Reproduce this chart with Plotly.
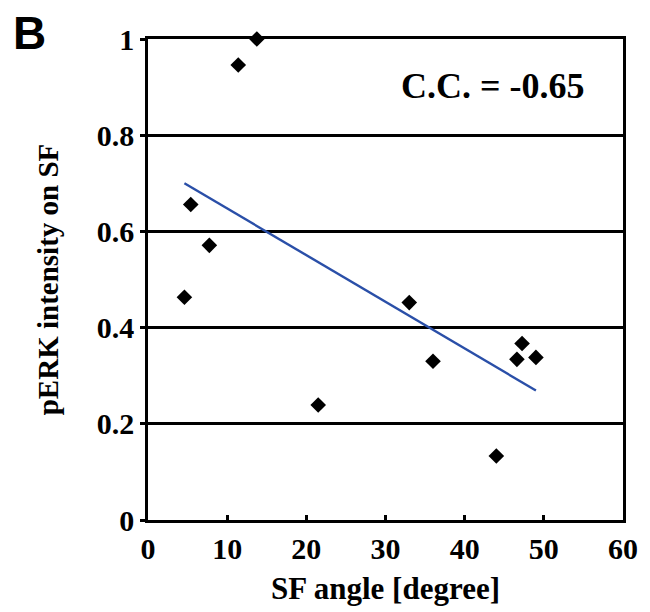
import numpy as np
import plotly.graph_objects as go

sf_angle = [4.6, 5.4, 7.75, 11.4, 13.75, 21.5, 33.0, 36.0, 44.0, 46.6, 47.25, 49.0]
perk_intensity = [0.463, 0.656, 0.571, 0.946, 1.0, 0.239, 0.452, 0.330, 0.133, 0.334, 0.367, 0.338]
x_ticks = [0, 10, 20, 30, 40, 50, 60]
y_ticks = [0, 0.2, 0.4, 0.6, 0.8, 1]
y_tick_labels = ["0", "0.2", "0.4", "0.6", "0.8", "1"]
cc_label = "C.C. = -0.65"

slope, intercept = np.polyfit(sf_angle, perk_intensity, 1)
fit_x = [min(sf_angle), max(sf_angle)]
fit_y = [slope * v + intercept for v in fit_x]

serif = "Liberation Serif, Times New Roman, serif"

fig = go.Figure()
fig.add_trace(go.Scatter(x=fit_x, y=fit_y, mode="lines",
                         line=dict(color="#2a4fa8", width=2.4), hoverinfo="skip"))
fig.add_trace(go.Scatter(x=sf_angle, y=perk_intensity, mode="markers",
                         marker=dict(symbol="diamond", size=12, color="black",
                                     line=dict(width=0)), cliponaxis=False))

fig.update_layout(
    width=642, height=604,
    margin=dict(l=140, r=21, t=31, b=91),
    plot_bgcolor="white", paper_bgcolor="white",
    showlegend=False,
    font=dict(family=serif, color="black"),
    xaxis=dict(range=[0, 60], tickvals=x_ticks, ticks="inside", ticklen=5,
               tickwidth=2.5, tickcolor="black",
               showline=True, linecolor="black", linewidth=2.5, mirror=True,
               showgrid=False, zeroline=False,
               tickfont=dict(family=serif, size=30, color="black", weight="bold"),
               title=dict(text="<b>SF angle [degree]</b>", standoff=14,
                          font=dict(family=serif, size=31, color="black"))),
    yaxis=dict(range=[0, 1], tickvals=y_ticks, ticktext=y_tick_labels,
               ticks="outside", ticklen=5, tickwidth=2.5, tickcolor="black",
               showline=True, linecolor="black", linewidth=2.5, mirror=True,
               showgrid=True, gridcolor="black", gridwidth=2.5, zeroline=False,
               tickfont=dict(family=serif, size=30, color="black", weight="bold"),
               title=dict(text="<b>pERK intensity on SF</b>", standoff=30,
                          font=dict(family=serif, size=29, color="black"))),
    annotations=[
        dict(text="<b>" + cc_label + "</b>", xref="x", yref="y", x=43.6, y=0.902,
             showarrow=False, font=dict(family=serif, size=36, color="black")),
        dict(text="<b>B</b>", xref="paper", yref="paper", x=-0.25, y=1.0124,
             xanchor="center", yanchor="middle", showarrow=False,
             font=dict(family="Liberation Sans, Arial, sans-serif", size=46, color="black")),
    ],
)

fig.write_html("out.html")
